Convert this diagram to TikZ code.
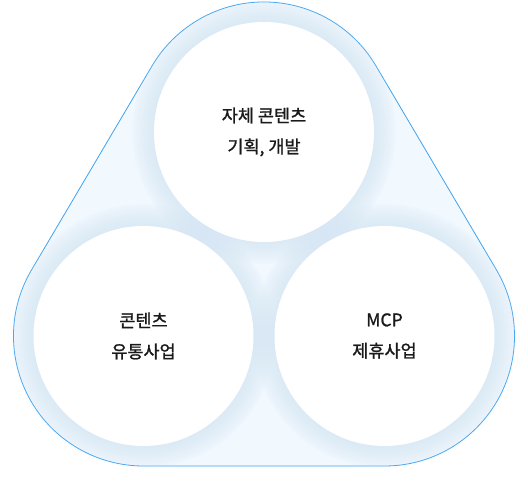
\documentclass[tikz,border=0pt]{standalone}
\usepackage{fontspec}
\newfontfamily\kr[FakeBold=1.2]{Noto Sans CJK KR}
\usetikzlibrary{backgrounds, calc, positioning}

\definecolor{hullline}{RGB}{63,162,239}
\definecolor{hullfill}{RGB}{241,248,254}
\definecolor{glow}{RGB}{208,228,245}
\definecolor{txt}{RGB}{26,26,26}

\begin{document}
\begin{tikzpicture}[
    x=1pt, y=1pt,
    bubble/.style={circle, fill=white, minimum size=220pt, inner sep=0pt, text centered, align=center, text=txt, font=\kr\fontsize{17.5}{31}\selectfont},
    hull/.style={draw=hullline, line width=0.8pt, fill=hullfill}
]
\useasboundingbox (0,0) rectangle (528,492);
% Nodes
\node[bubble] (plan) at (264,360) {자체 콘텐츠\\기획, 개발};
\node[bubble] (dist) at (143.5,156) {콘텐츠\\유통사업};
\node[bubble] (mcp) at (384.5,156) {MCP\\제휴사업};
% Outline and glow behind the circles
\begin{scope}[on background layer]
\draw[hull] ($(dist.center)+(270:130)$) -- ($(mcp.center)+(270:130)$)
    arc[start angle=270, end angle=390.57, radius=130]
    -- ($(plan.center)+(30.57:130)$)
    arc[start angle=30.57, end angle=149.43, radius=130]
    -- ($(dist.center)+(149.43:130)$)
    arc[start angle=149.43, end angle=270, radius=130] -- cycle;
\foreach \c in {plan, dist, mcp}
  \foreach \k in {2,4,...,22}
    \fill[glow, opacity=0.07] (\c.center) circle[radius=110+\k];
\end{scope}
\end{tikzpicture}
\end{document}
